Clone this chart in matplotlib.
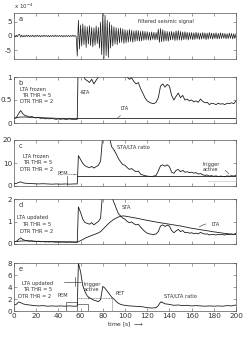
import numpy as np
import matplotlib
matplotlib.use("Agg")
import matplotlib.pyplot as plt

# ---- data ----
# a) filtered seismic signal, one sample per second, 0..200 s (units 1e-4)
signal = [
    0.2, -0.3, 0.3, -0.2, 0.4, 0.6, -0.4, 0.3, -0.3, 0.2,
    -0.3, 0.3, -0.2, 0.3, -0.3, 0.2, -0.2, 0.3, -0.3, 0.2,
    -0.2, 0.3, -0.2, 0.2, -0.3, 0.2, -0.2, 0.3, -0.2, 0.2,
    -0.2, 0.2, -0.3, 0.2, -0.2, 0.2, -0.2, 0.3, -0.2, 0.2,
    -0.2, 0.2, -0.2, 0.2, -0.3, 0.2, -0.2, 0.2, -0.2, 0.2,
    -0.2, 0.2, -0.2, 0.3, -0.2, 0.2, -0.2, -7.0, 5.5, -4.5,
    3.8, -3.5, 4.2, -3.0, 3.5, -4.0, 3.2, -2.8, 3.6, -3.3,
    3.0, -3.8, 2.8, -3.2, 3.5, -2.6, 3.0, -4.2, 4.8, -6.5,
    8.0, -8.0, 7.2, -6.8, 5.5, -7.5, 4.8, -4.2, 3.8, -3.5,
    3.2, -2.8, 2.9, -3.0, 2.6, -2.4, 2.8, -2.2, 2.5, -2.6,
    2.2, -2.4, 2.0, -2.1, 2.3, -1.9, 2.0, -2.2, 1.8, -1.9,
    2.0, -1.7, 1.9, -1.8, 1.6, -1.7, 1.8, -1.5, 1.6, -1.4,
    1.5, -1.4, 1.3, -1.5, 1.4, -1.2, 1.3, -1.4, 1.2, -1.3,
    2.4, -2.2, 2.6, -2.0, 2.2, -1.9, 1.8, -1.7, 1.6, -1.8,
    1.5, -1.4, 1.6, -1.3, 1.4, -1.6, 1.8, -1.5, 1.9, -1.4,
    1.6, -1.5, 1.4, -1.3, 1.5, -1.2, 1.3, -1.4, 1.2, -1.1,
    1.2, -1.3, 1.1, -1.2, 1.3, -1.0, 1.1, -1.2, 1.0, -1.1,
    1.2, -1.0, 1.1, -1.3, 1.0, -1.1, 1.2, -0.9, 1.0, -1.1,
    1.0, -0.9, 1.1, -1.0, 0.9, -1.0, 1.1, -0.9, 1.0, -0.8,
    0.9, -1.0, 0.8, -0.9, 1.0, -0.8, 0.9, -1.0, 0.8, -0.9,
    0.8,
]
signal_t = np.arange(len(signal))

# STA (same in b and d)
sta_t = [0, 2, 4, 6, 8, 10, 12, 14, 16, 18, 20, 22, 24, 26, 28, 30, 32, 34, 36, 38,
         40, 42, 44, 46, 48, 50, 52, 54, 56, 57, 58, 60, 62, 64, 66, 68, 70, 72, 74, 76,
         78, 80, 82, 84, 86, 88, 90, 92, 94, 96, 98, 100, 102, 104, 106, 108, 110, 112,
         114, 116, 118, 120, 122, 124, 126, 128, 130, 132, 134, 136, 138, 140, 142, 144,
         146, 148, 150, 152, 154, 156, 158, 160, 162, 164, 166, 168, 170, 172, 174, 176,
         178, 180, 182, 184, 186, 188, 190, 192, 194, 196, 198, 200]
sta = [0.10, 0.11, 0.20, 0.27, 0.20, 0.16, 0.15, 0.13, 0.14, 0.12, 0.11, 0.12, 0.10,
       0.11, 0.09, 0.10, 0.09, 0.10, 0.09, 0.08, 0.09, 0.08, 0.09, 0.08, 0.08, 0.09,
       0.08, 0.08, 0.08, 0.08, 1.65, 1.40, 1.10, 0.95, 0.92, 0.88, 0.95, 0.85, 0.93,
       1.00, 1.15, 2.40, 3.00, 2.80, 2.40, 2.10, 1.85, 1.60, 1.35, 1.25, 1.15, 1.10,
       1.00, 0.95, 0.98, 0.90, 0.85, 0.88, 0.75, 0.65, 0.55, 0.48, 0.45, 0.43, 0.42,
       0.45, 0.55, 0.80, 0.85, 0.78, 0.84, 0.80, 0.60, 0.50, 0.58, 0.65, 0.55, 0.60,
       0.50, 0.52, 0.48, 0.50, 0.46, 0.48, 0.45, 0.52, 0.47, 0.44, 0.45, 0.40, 0.43,
       0.42, 0.40, 0.43, 0.41, 0.42, 0.40, 0.43, 0.42, 0.44, 0.42, 0.48]

# b) frozen LTA
lta_frozen_t = [0, 6, 10, 20, 30, 40, 50, 57, 200]
lta_frozen = [0.11, 0.13, 0.13, 0.12, 0.11, 0.10, 0.10, 0.10, 0.10]

# c) STA/LTA ratio with frozen LTA
ratio_c_t = [0, 2, 4, 6, 8, 10, 14, 18, 22, 26, 30, 34, 38, 42, 46, 50, 54, 57, 58,
             60, 62, 64, 66, 68, 70, 72, 74, 76, 78, 80, 86, 88, 90, 92, 94, 96, 98,
             100, 102, 104, 106, 108, 110, 112, 114, 116, 118, 120, 122, 124, 126, 128,
             130, 132, 134, 136, 138, 140, 142, 144, 146, 148, 150, 152, 154, 156, 158,
             160, 162, 164, 166, 168, 170, 172, 174, 176, 178, 180, 182, 184, 186, 188,
             190, 192, 194, 196, 198, 200]
ratio_c = [1.0, 1.1, 1.5, 1.8, 1.4, 1.2, 1.1, 1.0, 0.9, 1.0, 0.9, 0.8, 0.9, 0.8, 0.9,
           0.8, 0.9, 0.9, 13.2, 11.5, 9.8, 8.8, 8.3, 8.0, 8.5, 7.8, 8.4, 9.0, 10.8, 22.0,
           21.0, 17.0, 15.8, 14.0, 12.0, 10.5, 9.3, 9.0, 8.0, 7.2, 7.6, 6.8, 6.2, 6.5,
           5.2, 4.8, 4.5, 4.3, 4.2, 4.1, 4.3, 4.6, 6.5, 8.8, 9.2, 8.6, 9.2, 8.4, 6.0, 5.5,
           6.8, 7.2, 6.2, 6.8, 6.0, 6.2, 5.8, 6.0, 5.6, 5.8, 5.2, 5.4, 4.9, 4.6, 4.8, 4.3,
           4.5, 4.2, 4.4, 4.1, 4.3, 4.2, 4.0, 4.4, 4.2, 4.5, 4.3, 4.7]

# d) updated LTA
lta_upd_t = [0, 6, 10, 20, 40, 56, 57, 60, 65, 70, 75, 78, 82, 86, 90, 94, 98, 100,
             110, 120, 130, 140, 150, 160, 170, 180, 190, 200]
lta_upd = [0.10, 0.13, 0.14, 0.12, 0.10, 0.09, 0.08, 0.15, 0.28, 0.38, 0.47, 0.55,
           0.75, 0.95, 1.10, 1.20, 1.25, 1.24, 1.15, 1.05, 0.96, 0.88, 0.80, 0.70,
           0.62, 0.54, 0.47, 0.42]

# e) STA/LTA ratio with updated LTA
ratio_e_t = [0, 2, 4, 6, 8, 10, 14, 18, 22, 26, 30, 34, 38, 42, 46, 50, 54, 56, 57,
             58, 60, 62, 64, 66, 68, 70, 72, 74, 76, 78, 80, 82, 84, 86, 88, 90, 92, 94,
             96, 98, 100, 104, 108, 112, 116, 120, 124, 128, 130, 132, 134, 136, 140,
             144, 148, 152, 156, 160, 164, 168, 172, 176, 180, 184, 188, 192, 196, 200]
ratio_e = [1.0, 1.1, 1.5, 1.4, 1.2, 1.1, 1.0, 0.9, 0.85, 0.9, 0.8, 0.85, 0.8, 0.85,
           0.8, 0.85, 0.8, 0.8, 0.85, 8.0, 6.5, 4.2, 3.2, 2.5, 2.2, 2.0, 1.8, 1.7, 1.55,
           1.9, 4.1, 3.8, 3.3, 2.8, 2.3, 2.0, 1.6, 1.3, 1.1, 1.0, 0.95, 0.85, 0.8, 0.75,
           0.7, 0.55, 0.5, 0.55, 0.9, 1.5, 1.4, 1.2, 1.1, 0.95, 1.0, 0.9, 0.95, 0.85, 0.9,
           0.85, 0.8, 0.85, 0.8, 0.85, 0.8, 0.9, 0.85, 1.0]

xticks = [0, 20, 40, 60, 80, 100, 120, 140, 160, 180, 200]

# ---- figure ----
W, H = 250, 339
fig = plt.figure(figsize=(W / 100, H / 100), dpi=100)
plt.rcParams["font.family"] = "DejaVu Sans"

line_c = "#1e1e1e"
frame_c = "#555555"
txt_c = "#333333"
fs_tick = 5.2
fs_txt = 3.7


def make_ax(top, bottom, ylim, yticks, yticklabels, letter):
    ax = fig.add_axes([14 / W, 1 - bottom / H, 222 / W, (bottom - top) / H])
    ax.set_xlim(0, 200)
    ax.set_ylim(*ylim)
    ax.set_xticks(xticks)
    ax.set_yticks(yticks)
    ax.set_yticklabels(yticklabels)
    ax.tick_params(direction="in", length=2, width=0.4, colors=frame_c,
                   labelsize=fs_tick, labelcolor=txt_c, pad=1.5,
                   top=True, right=True)
    for s in ax.spines.values():
        s.set_color(frame_c)
        s.set_linewidth(0.5)
    ax.text(0.02, 0.93, letter, transform=ax.transAxes, fontsize=fs_tick - 0.4,
            va="top", color=txt_c)
    return ax


def label(ax, x, y, s):
    ax.text(x, y, s, fontsize=fs_txt, va="center", color=txt_c)


arrow = dict(arrowstyle="-", color=txt_c, lw=0.4)

# a
ax = make_ax(13, 59, (-8, 8), [-5, 0, 5], ["-5", "0", "5"], "a")
ax.plot(signal_t, signal, color=line_c, lw=0.5)
ax.set_xticklabels([])
label(ax, 112, 5, "filtered seismic signal")
ax.text(0, 1.04, r"x $10^{-4}$", transform=ax.transAxes, fontsize=fs_txt + 0.3,
        color=txt_c, va="bottom")

# b
ax = make_ax(77, 123, (0, 1), [0, 0.5, 1], ["0", "0.5", "1"], "b")
ax.plot(sta_t, sta, color=line_c, lw=0.6)
ax.plot(lta_frozen_t, lta_frozen, color=line_c, lw=0.6)
ax.set_xticklabels([])
label(ax, 5, 0.73, "LTA frozen")
label(ax, 7, 0.60, "TR THR = 5")
label(ax, 5, 0.46, "DTR THR = 2")
ax.annotate("STA", xy=(57.5, 0.66), xytext=(60, 0.66), fontsize=fs_txt,
            va="center", color=txt_c, arrowprops=arrow)
ax.annotate("LTA", xy=(91, 0.1), xytext=(96, 0.32), fontsize=fs_txt,
            va="center", color=txt_c,
            arrowprops=dict(arrowstyle="-", color=txt_c, lw=0.4,
                            connectionstyle="arc3,rad=-0.3"))

# c
ax = make_ax(140, 186, (0, 20), [0, 10, 20], ["0", "10", "20"], "c")
ax.plot(ratio_c_t, ratio_c, color=line_c, lw=0.6)
ax.plot([47.5, 47.5], [0, 4.2], color=line_c, lw=0.4)
ax.plot([47.5, 57], [5.2, 5.2], color="#555555", lw=0.4, ls=(0, (2, 1)))
ax.plot([57, 200], [4.2, 4.2], color=line_c, lw=0.6)
ax.plot([175, 200], [2.0, 2.0], color="#777777", lw=0.4, ls=(0, (1, 1)))
ax.set_xticklabels([])
label(ax, 8, 13, "LTA frozen")
label(ax, 8, 10.2, "TR THR = 5")
label(ax, 5, 7.2, "DTR THR = 2")
ax.annotate("PEM", xy=(55, 5.0), xytext=(39, 5.6), fontsize=fs_txt,
            va="center", color=txt_c, arrowprops=arrow)
ax.annotate("STA/LTA ratio", xy=(90, 15.5), xytext=(93, 17), fontsize=fs_txt,
            va="center", color=txt_c, arrowprops=arrow)
ax.annotate("trigger\nactive", xy=(195, 4.3), xytext=(170, 8.3),
            fontsize=fs_txt, va="center", color=txt_c, linespacing=1.1,
            arrowprops=dict(arrowstyle="-", color=txt_c, lw=0.4,
                            connectionstyle="arc3,rad=-0.3"))

# d
ax = make_ax(199, 244, (0, 2), [0, 1, 2], ["0", "1", "2"], "d")
ax.plot(sta_t, sta, color=line_c, lw=0.6)
ax.plot(lta_upd_t, lta_upd, color=line_c, lw=0.6)
ax.set_xticklabels([])
label(ax, 3, 1.2, "LTA updated")
label(ax, 7, 0.88, "TR THR = 5")
label(ax, 5, 0.56, "DTR THR = 2")
ax.annotate("STA", xy=(92, 1.78), xytext=(97, 1.62), fontsize=fs_txt,
            va="center", color=txt_c, arrowprops=arrow)
ax.annotate("LTA", xy=(165, 0.67), xytext=(178, 0.86), fontsize=fs_txt,
            va="center", color=txt_c,
            arrowprops=dict(arrowstyle="-", color=txt_c, lw=0.4,
                            connectionstyle="arc3,rad=0.3"))

# e
ax = make_ax(263, 311, (0, 8), [0, 2, 4, 6, 8], ["0", "2", "4", "6", "8"], "e")
ax.plot(ratio_e_t, ratio_e, color=line_c, lw=0.6)
ax.plot([47, 47, 57, 57], [0, 1.5, 1.5, 0], color=line_c, lw=0.4)
ax.plot([57, 67, 67], [1.2, 1.2, 0], color=line_c, lw=0.4)
ax.plot([45, 60], [4.9, 4.9], color=line_c, lw=0.4)
ax.plot([55, 55], [4.2, 5.6], color=line_c, lw=0.4)
ax.plot([57, 88, 88], [2.1, 2.1, 0], color="#555555", lw=0.4, ls=(0, (2, 1)))
ax.set_xticklabels([str(v) for v in xticks])
ax.set_xlabel(r"time [s] $\longrightarrow$", fontsize=fs_txt + 0.6,
              color=txt_c, labelpad=1)
label(ax, 7, 4.6, "LTA updated")
label(ax, 8, 3.6, "TR THR = 5")
label(ax, 4, 2.5, "DTR THR = 2")
ax.annotate("PEM", xy=(51, 1.4), xytext=(39, 2.6), fontsize=fs_txt,
            va="center", color=txt_c, arrowprops=arrow)
ax.annotate("trigger\nactive", xy=(67, 2.0), xytext=(63, 4.0),
            fontsize=fs_txt, va="center", color=txt_c, linespacing=1.1,
            arrowprops=arrow)
ax.annotate("PET", xy=(86, 2.1), xytext=(91, 2.9), fontsize=fs_txt,
            va="center", color=txt_c, arrowprops=arrow)
ax.annotate("STA/LTA ratio", xy=(133, 1.6), xytext=(135, 2.5),
            fontsize=fs_txt, va="center", color=txt_c, arrowprops=arrow)

fig.savefig("out.png", dpi=100)
